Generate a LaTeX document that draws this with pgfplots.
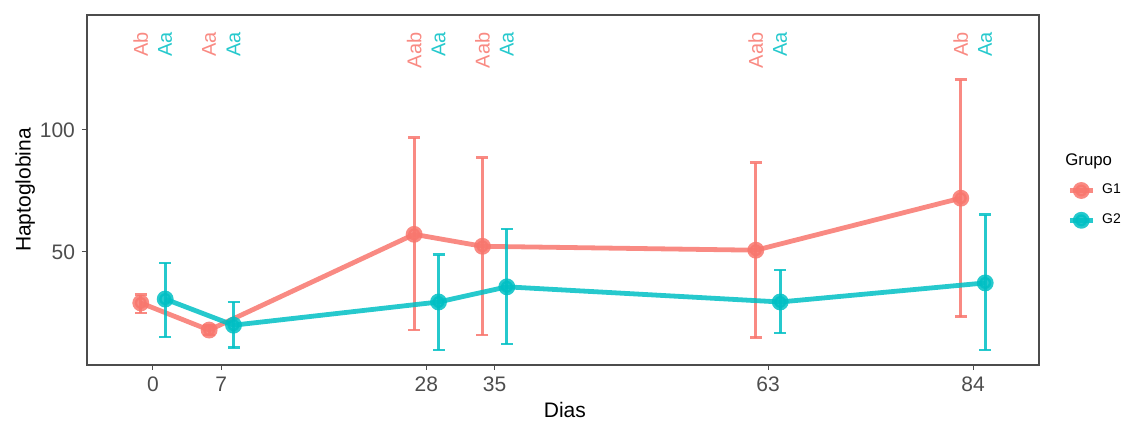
\documentclass[border=0pt]{standalone}
\usepackage{pgfplots}
\pgfplotsset{compat=1.18}
\usepackage{fontspec}
\setmainfont{Liberation Sans}
\definecolor{gA}{HTML}{F8766D}
\definecolor{gB}{HTML}{00BFC4}
\definecolor{tickgray}{HTML}{4D4D4D}
\begin{document}
\begin{tikzpicture}
\begin{axis}[
  scale only axis, width=476pt, height=175pt,
  xmin=-6.76, xmax=90.76, ymin=3.7, ymax=147,
  xtick={0,7,28,35,63,84}, ytick={50,100},
  xtick pos=bottom, ytick pos=left,
  tick align=outside, major tick length=2.5pt,
  tick style={tickgray, line width=0.5pt},
  axis line style={black!70, line width=0.8pt},
  ticklabel style={font=\fontsize{10.5}{12}\selectfont, text=tickgray},
  /pgf/number format/assume math mode=true,
  xlabel={Dias}, ylabel={Haptoglobina},
  label style={font=\fontsize{10.5}{12}\selectfont},
  xlabel style={at={(axis description cs:0.502,0)}, anchor=center, yshift=-22.5pt},
  ylabel style={at={(axis description cs:-0.065,0.5)}, anchor=center},
  clip=false,
  legend style={draw=none, fill=none, at={(1.0294,0.456)}, anchor=west,
    font=\fontsize{7}{8}\selectfont, row sep=6.5pt, column sep=3.5pt,
    inner sep=0pt, nodes={inner sep=0pt}, cells={anchor=west}},
  legend cell align=left,
  legend image code/.code={
    \draw[line width=2.4pt] (0pt,0pt) -- (11.5pt,0pt);
    \fill (5.75pt,0pt) circle (3pt);
  },
]
\coordinate (cSW) at (rel axis cs:0,0);
\coordinate (cNE) at (rel axis cs:1,1);
\coordinate (cT) at (rel axis cs:1,0.583);
% G1
\addplot[gA, opacity=0.85, line width=2.4pt, mark=*, mark size=3pt,
  error bars/.cd, y dir=both, y explicit,
  error bar style={line width=1.4pt},
  error mark options={rotate=90, mark size=3pt, line width=1.4pt}]
  table[x=x, y=y, y error plus=ep, y error minus=em] {
x y ep em
-1.25 29.1 3.3 4.1
5.75 18.0 2.0 2.0
26.75 57.2 39.5 39.2
33.75 52.3 36.2 36.3
61.75 50.7 35.8 35.9
82.75 72.0 48.5 48.6
};
\addlegendentry{G1}
% G2
\addplot[gB, opacity=0.85, line width=2.4pt, mark=*, mark size=3pt,
  error bars/.cd, y dir=both, y explicit,
  error bar style={line width=1.4pt},
  error mark options={rotate=90, mark size=3pt, line width=1.4pt}]
  table[x=x, y=y, y error plus=ep, y error minus=em] {
x y ep em
1.25 30.7 14.8 15.5
8.25 20.0 9.5 9.3
29.25 29.5 19.3 19.7
36.25 35.7 23.7 23.4
64.25 29.5 13.1 12.7
85.25 37.3 27.9 27.5
};
\addlegendentry{G2}
% letters
\addplot[draw=none, mark=none, nodes near coords, point meta=explicit symbolic,
  nodes near coords style={rotate=90, anchor=east, text=gA, opacity=0.85,
  font=\fontsize{10}{11}\selectfont, inner sep=0pt}, forget plot]
  table[meta=lab] {
x y lab
-1.25 140 Ab
5.75 140 Aa
26.75 140 Aab
33.75 140 Aab
61.75 140 Aab
82.75 140 Ab
};
\addplot[draw=none, mark=none, nodes near coords, point meta=explicit symbolic,
  nodes near coords style={rotate=90, anchor=east, text=gB, opacity=0.85,
  font=\fontsize{10}{11}\selectfont, inner sep=0pt}, forget plot]
  table[meta=lab] {
x y lab
1.25 140 Aa
8.25 140 Aa
29.25 140 Aa
36.25 140 Aa
64.25 140 Aa
85.25 140 Aa
};
\end{axis}
\node[anchor=west, inner sep=0pt, font=\fontsize{8.4}{9}\selectfont] at ([xshift=13pt]cT) {Grupo};
\pgfresetboundingbox
\path[use as bounding box] ([shift={(-43.5pt,-28pt)}]cSW) rectangle ([shift={(42pt,7.5pt)}]cNE);
\end{tikzpicture}
\end{document}
